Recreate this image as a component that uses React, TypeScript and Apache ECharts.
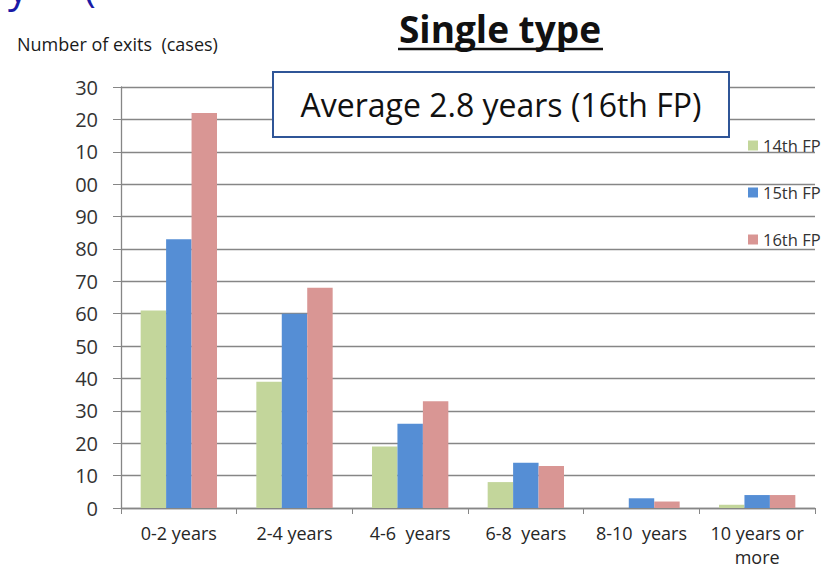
import React, { useEffect, useRef } from "react";
import * as echarts from "echarts";

// Exit counts by holding period, single-type funds
const categories = [
  "0-2 years",
  "2-4 years",
  "4-6  years",
  "6-8  years",
  "8-10  years",
  "10 years or\nmore",
];
const seriesNames = ["14th FP", "15th FP", "16th FP"];
const fp14 = [61, 39, 19, 8, 0, 1];
const fp15 = [83, 60, 26, 14, 3, 4];
const fp16 = [122, 68, 33, 13, 2, 4];
const yTickLabels = ["0", "10", "20", "30", "40", "50", "60", "70", "80", "90", "00", "10", "20", "30"];
const colors = ["#C3D69B", "#558ED5", "#D99694"];

const FONT = '"Open Sans", "DejaVu Sans", sans-serif';

export default function App() {
  const ref = useRef<HTMLDivElement>(null);

  useEffect(() => {
    document.body.style.margin = "0";
    if (!ref.current) return;
    const chart = echarts.init(ref.current, undefined, { renderer: "svg" });
    const values = [fp14, fp15, fp16];

    chart.setOption({
      animation: false,
      backgroundColor: "#ffffff",
      grid: { left: 121, right: 11, top: 87, bottom: 60, containLabel: false },
      legend: {
        data: seriesNames,
        orient: "vertical",
        left: 743,
        top: 132,
        itemWidth: 10,
        itemHeight: 10,
        itemGap: 30,
        icon: "rect",
        textStyle: { fontSize: 16.5, lineHeight: 16, color: "#333333", fontFamily: FONT },
      },
      xAxis: {
        type: "category",
        data: categories,
        axisLine: { show: true, lineStyle: { color: "#868686", width: 1.3 } },
        axisTick: { show: true, length: 6, alignWithLabel: false, lineStyle: { color: "#868686" } },
        axisLabel: {
          fontSize: 18,
          lineHeight: 24,
          margin: 13,
          color: "#262626",
          fontFamily: FONT,
          interval: 0,
        },
      },
      yAxis: {
        type: "value",
        min: 0,
        max: 130,
        interval: 10,
        axisLine: { show: true, lineStyle: { color: "#868686", width: 1.3 } },
        axisTick: { show: true, length: 8, lineStyle: { color: "#868686" } },
        splitLine: { show: true, lineStyle: { color: "#868686", width: 1.3 } },
        axisLabel: {
          fontSize: 20,
          margin: 23,
          color: "#333333",
          fontFamily: FONT,
          formatter: (v: number) => yTickLabels[Math.round(v / 10)],
        },
      },
      series: seriesNames.map((name, i) => ({
        name,
        type: "bar",
        data: values[i],
        barGap: "0%",
        barCategoryGap: "34%",
        itemStyle: { color: colors[i] },
      })),
      graphic: [
        // remains of a larger heading running off the top-left edge
        {
          type: "text",
          z: 100,
          style: {
            text: "y",
            x: 8,
            y: -14,
            fill: "#1a1aa6",
            fontSize: 40,
            fontFamily: FONT,
            textAlign: "left",
            textVerticalAlign: "middle",
          },
        },
        {
          type: "text",
          z: 100,
          style: {
            text: "(",
            x: 84,
            y: -14,
            fill: "#1a1aa6",
            fontSize: 40,
            fontFamily: FONT,
            textAlign: "left",
            textVerticalAlign: "middle",
          },
        },
        {
          type: "text",
          z: 100,
          style: {
            text: "Single type",
            x: 500,
            y: 28,
            fill: "#111111",
            fontSize: 37,
            fontWeight: "bold",
            fontFamily: FONT,
            textAlign: "center",
            textVerticalAlign: "middle",
          },
        },
        {
          type: "line",
          z: 100,
          shape: { x1: 398, y1: 49, x2: 603, y2: 49 },
          style: { stroke: "#111111", lineWidth: 2.5 },
        },
        {
          type: "text",
          z: 100,
          style: {
            text: "Number of exits  (cases)",
            x: 17,
            y: 44,
            fill: "#1a1a1a",
            fontSize: 18,
            fontFamily: FONT,
            textAlign: "left",
            textVerticalAlign: "middle",
          },
        },
        {
          type: "rect",
          z: 100,
          shape: { x: 273, y: 72, width: 456, height: 65 },
          style: { fill: "#ffffff", stroke: "#2F5597", lineWidth: 2 },
        },
        {
          type: "text",
          z: 101,
          style: {
            text: "Average 2.8 years (16th FP)",
            x: 501,
            y: 104,
            fill: "#111111",
            fontSize: 32,
            fontFamily: FONT,
            textAlign: "center",
            textVerticalAlign: "middle",
          },
        },
      ],
    });

    return () => chart.dispose();
  }, []);

  return <div ref={ref} style={{ width: 826, height: 569 }} />;
}
